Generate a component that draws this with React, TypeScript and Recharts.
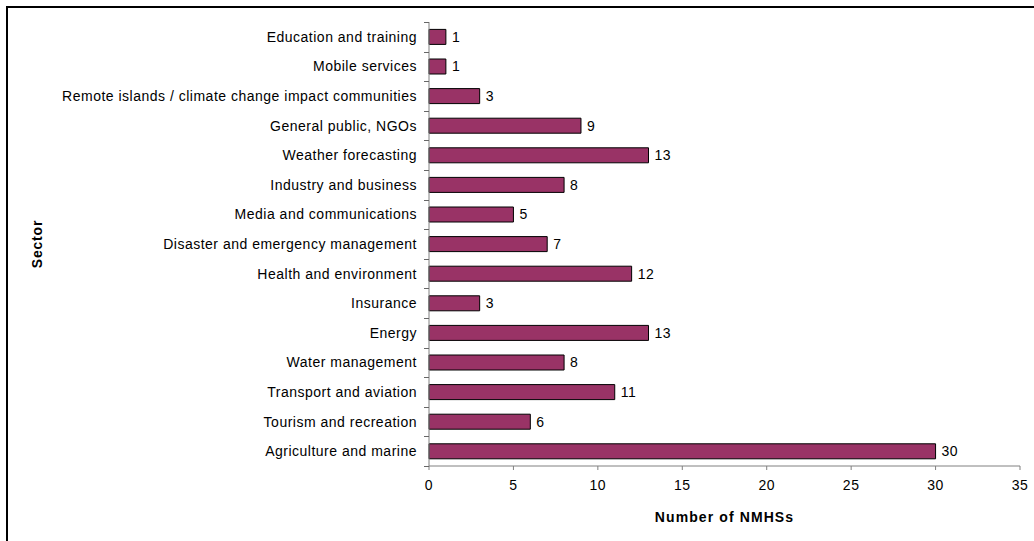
import { BarChart, Bar, XAxis, YAxis, LabelList } from 'recharts';

const sectors = [
  'Education and training',
  'Mobile services',
  'Remote islands / climate change impact communities',
  'General public, NGOs',
  'Weather forecasting',
  'Industry and business',
  'Media and communications',
  'Disaster and emergency management',
  'Health and environment',
  'Insurance',
  'Energy',
  'Water management',
  'Transport and aviation',
  'Tourism and recreation',
  'Agriculture and marine',
];

const counts = [1, 1, 3, 9, 13, 8, 5, 7, 12, 3, 13, 8, 11, 6, 30];

const xTicks = [0, 5, 10, 15, 20, 25, 30, 35];

const data = sectors.map((name, i) => ({ name, value: counts[i] }));

// band boundaries for the Excel-style category tick marks
const bandEdges = [...sectors.map((_, i) => i), sectors.length];

const FONT = 'Liberation Sans, Arial, sans-serif';
const AXIS = '#808080';

const W = 1034;
const H = 541;
const TOP = 22;
const X_AXIS_H = 75;
const PLOT_H = H - TOP - X_AXIS_H;
const BAND = PLOT_H / sectors.length;
const Y_AXIS_W = 429;

const textStyle = { fontSize: 14, fontFamily: FONT, fill: '#000', letterSpacing: 0.5 };

const renderSectorTick = (props: any) => {
  const { y, payload, index } = props;
  const top = Math.round(y - BAND / 2) + 0.5;
  const bottom = Math.round(y + BAND / 2) + 0.5;
  const isLast = index === sectors.length - 1;
  return (
    <g key={`t-${index}`}>
      <line x1={Y_AXIS_W - 5} x2={Y_AXIS_W} y1={top} y2={top} stroke="#666" strokeWidth={1} />
      {isLast && <line x1={Y_AXIS_W - 5} x2={Y_AXIS_W} y1={bottom} y2={bottom} stroke="#666" strokeWidth={1} />}
      <text x={Y_AXIS_W - 12} y={y} textAnchor="end" dominantBaseline="central" {...textStyle}>
        {payload.value}
      </text>
    </g>
  );
};

export default function App() {
  return (
    <div style={{ position: 'fixed', left: 0, top: 0, width: W, height: H, overflow: 'hidden', background: '#fff' }}>
      <div
        style={{
          position: 'absolute',
          left: 6,
          top: 6,
          width: W + 20,
          height: H + 20,
          border: '2px solid #000',
          boxSizing: 'border-box',
        }}
      />
      <div style={{ position: 'absolute', left: 0, top: 0 }}>
        <BarChart
          width={W}
          height={H}
          data={data}
          layout="vertical"
          margin={{ top: TOP, right: 14, left: 0, bottom: 0 }}
          barCategoryGap="25%"
        >
          <XAxis
            type="number"
            domain={[0, 35]}
            ticks={xTicks}
            interval={0}
            stroke={AXIS}
            tickSize={4}
            tickMargin={10}
            tick={textStyle}
            height={X_AXIS_H}
            label={{
              value: 'Number of NMHSs',
              position: 'insideTop',
              offset: 46,
              style: { fontSize: 14, fontWeight: 'bold', fontFamily: FONT, fill: '#000', letterSpacing: 1.1 },
            }}
          />
          <YAxis
            yAxisId="edges"
            type="number"
            domain={[0, sectors.length]}
            ticks={bandEdges}
            interval={0}
            width={0}
            axisLine={false}
            tick={false}
            tickSize={5}
            stroke="#666"
            allowDataOverflow
          />
          <YAxis
            type="category"
            dataKey="name"
            width={Y_AXIS_W}
            stroke={AXIS}
            tickLine={false}
            interval={0}
            tick={renderSectorTick}
            label={{
              value: 'Sector',
              angle: -90,
              position: 'insideLeft',
              offset: 37,
              style: { fontSize: 14, fontWeight: 'bold', fontFamily: FONT, fill: '#000', textAnchor: 'middle', letterSpacing: 0.8 },
            }}
          />
          <Bar dataKey="value" fill="#993366" stroke="#000" strokeWidth={1} isAnimationActive={false}>
            <LabelList dataKey="value" position="right" offset={6} style={textStyle} />
          </Bar>
        </BarChart>
      </div>
    </div>
  );
}
